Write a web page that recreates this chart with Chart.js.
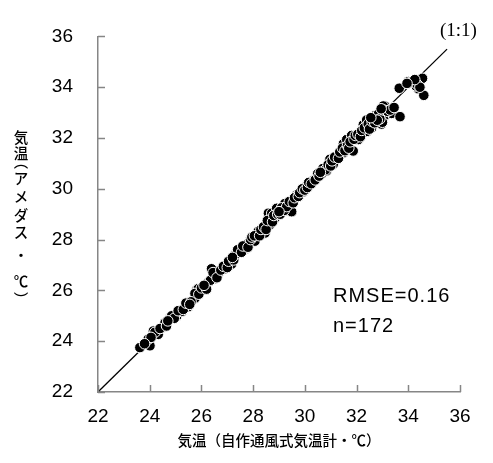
<!DOCTYPE html>
<html>
<head>
<meta charset="utf-8">
<script src="https://cdn.jsdelivr.net/npm/chart.js@4.4.1/dist/chart.umd.min.js"></script>
<style>
html,body{margin:0;padding:0;background:#fff;}
#wrap{width:493px;height:463px;position:relative;}
</style>
</head>
<body>
<div id="wrap"><canvas id="c" width="493" height="463"></canvas></div>
<script>
// Data
const xTitle = '気温（自作通風式気温計・℃）';
const yTitleChars = ['気','温','︵','ア','メ','ダ','ス','・','℃','︶'];
const tickValues = [22, 24, 26, 28, 30, 32, 34, 36];
const identityLine = [22, 35.5];
const statsLabels = ['RMSE=0.16', 'n=172'];
const identityLabel = '(1:1)';

const autoTemp = [
 23.62,24.01,23.94,24.33,24.14,24.46,24.59,24.78,25.04,25.24,
 25.49,25.75,25.81,26.14,26.27,25.88,25.75,26.39,26.52,26.65,
 26.91,27.17,27.43,27.68,27.75,28.07,28.14,28.46,28.65,28.59,
 28.20,28.65,28.84,28.72,28.91,29.49,29.23,29.68,29.94,30.07,
 30.33,30.46,30.65,30.84,30.97,30.65,31.10,31.23,31.87,31.49,
 31.49,32.07,31.62,31.81,32.39,32.58,32.26,32.39,32.97,32.78,
 33.10,33.10,33.36,33.68,33.00,32.71,33.65,34.00,34.39,34.55,
 34.39,34.60,34.30,33.03,24.20,24.40,24.65,24.85,24.95,25.10,
 25.30,25.40,25.60,25.90,26.00,26.20,26.35,26.45,26.60,26.75,
 26.85,27.00,27.05,27.25,27.30,27.40,27.55,27.60,27.80,27.90,
 27.95,28.05,28.25,28.30,28.40,28.50,28.55,28.75,28.80,28.95,
 29.05,29.10,29.20,29.30,29.40,29.55,29.60,29.75,29.80,29.90,
 30.00,30.10,30.15,30.25,30.40,30.50,30.55,30.70,30.80,30.90,
 31.00,31.05,31.15,31.30,31.35,31.45,31.55,31.65,31.70,31.75,
 31.90,31.95,32.05,32.15,32.20,32.30,32.45,32.50,32.60,32.70,
 32.85,32.90,33.05,33.20,33.30,33.45,34.10,34.35,34.45,34.25,
 33.95,32.95,32.80,32.55,30.60,29.00,27.20,26.10,25.55,24.70,
 24.05,23.80
];
const amedasTemp = [
 23.75,23.82,24.08,24.27,24.40,24.53,24.72,24.91,24.98,25.17,
 25.36,25.69,26.01,26.14,26.33,26.07,25.88,26.85,26.46,26.65,
 26.85,27.04,27.49,27.62,27.81,27.94,28.20,28.26,28.65,29.04,
 28.33,28.59,28.84,29.04,29.23,29.10,29.42,29.75,29.88,30.13,
 30.33,30.46,30.58,30.71,31.16,30.69,30.97,31.29,31.49,31.42,
 31.77,31.94,31.94,32.10,32.26,32.39,32.52,32.71,32.55,32.84,
 32.90,33.26,32.97,32.84,32.62,32.88,33.96,34.22,34.26,34.35,
 33.94,33.68,34.05,33.26,24.35,24.50,24.60,25.00,24.90,25.20,
 25.25,25.50,25.55,25.85,26.10,26.05,26.40,26.70,26.50,26.80,
 26.95,26.90,27.15,27.20,27.40,27.60,27.50,27.75,27.70,28.00,
 28.10,28.15,28.15,28.40,28.50,28.40,28.75,28.70,28.95,29.00,
 29.00,29.25,29.15,29.30,29.50,29.45,29.65,29.70,29.85,30.00,
 29.95,30.05,30.25,30.20,30.35,30.60,30.50,30.80,30.75,30.95,
 30.90,31.10,31.25,31.20,31.45,31.60,31.50,31.70,31.60,31.85,
 31.95,32.10,32.15,32.05,32.30,32.40,32.55,32.35,32.65,32.60,
 32.95,32.75,33.10,33.05,33.10,33.20,34.20,34.10,34.00,34.30,
 34.15,33.15,32.70,32.80,30.65,29.10,27.30,26.20,25.45,24.80,
 24.15,23.90
];

const points = autoTemp.map((x, i) => ({x: x, y: amedasTemp[i]}));
const lineData = identityLine.map(v => ({x: v, y: v}));

const AXIS_COLOR = '#868686';
const TEXT_COLOR = '#000';
const jpFont = '"Noto Sans CJK JP", "Noto Sans", sans-serif';
const latinFont = '"Liberation Sans", Arial, sans-serif';

const decorPlugin = {
  id: 'decor',
  afterDraw(chart) {
    const ctx = chart.ctx;
    const xs = chart.scales.x, ys = chart.scales.y;
    const area = chart.chartArea;
    ctx.save();
    // inside tick marks
    ctx.strokeStyle = AXIS_COLOR;
    ctx.lineWidth = 1.5;
    ctx.beginPath();
    tickValues.forEach(v => {
      const px = Math.round(xs.getPixelForValue(v)) + 0.5;
      ctx.moveTo(px, area.bottom);
      ctx.lineTo(px, area.bottom - 7);
      const py = Math.round(ys.getPixelForValue(v)) + 0.5;
      ctx.moveTo(area.left, py);
      ctx.lineTo(area.left + 7, py);
    });
    ctx.stroke();

    // x title
    ctx.fillStyle = TEXT_COLOR;
    ctx.font = '500 14.5px ' + jpFont;
    ctx.textAlign = 'center';
    ctx.textBaseline = 'middle';
    ctx.fillText(xTitle, (area.left + area.right) / 2, 440);

    // y title (vertical, upright characters)
    const yPos = [137, 153, 161, 178, 196, 215, 232, 255, 281, 299];
    ctx.font = '500 14.5px ' + jpFont;
    yTitleChars.forEach((ch, i) => {
      ctx.fillText(ch, 21, yPos[i]);
    });

    // (1:1)
    ctx.font = '19px "Liberation Serif", "DejaVu Serif", serif';
    ctx.textAlign = 'left';
    ctx.fillText(identityLabel, 440, 31);

    // stats
    ctx.font = '20px ' + latinFont;
    try { ctx.letterSpacing = '1px'; } catch (e) {}
    ctx.fillText(statsLabels[0], 333, 296);
    ctx.fillText(statsLabels[1], 333, 326);
    ctx.restore();
  }
};

new Chart(document.getElementById('c'), {
  type: 'scatter',
  data: {
    datasets: [
      {
        data: points,
        backgroundColor: '#000',
        borderColor: '#fff',
        borderWidth: 1,
        pointRadius: 5.3,
        pointHoverRadius: 5.3,
        order: 1
      },
      {
        type: 'line',
        data: lineData,
        borderColor: '#000',
        borderWidth: 1.3,
        pointRadius: 0,
        fill: false,
        order: 2
      }
    ]
  },
  options: {
    responsive: false,
    animation: false,
    events: [],
    layout: { padding: { left: 0, top: 30, right: 33, bottom: 0 } },
    plugins: { legend: { display: false }, tooltip: { enabled: false } },
    scales: {
      x: {
        type: 'linear',
        min: 22, max: 36,
        afterFit(s) { s.height = 71; },
        afterBuildTicks(s) { s.ticks = tickValues.map(v => ({value: v})); },
        grid: { drawOnChartArea: false, drawTicks: false },
        border: { display: true, color: AXIS_COLOR, width: 1.5 },
        ticks: {
          padding: 13,
          color: TEXT_COLOR,
          font: { family: latinFont, size: 19 },
          maxRotation: 0
        }
      },
      y: {
        type: 'linear',
        min: 22, max: 36,
        afterFit(s) { s.width = 98; },
        afterBuildTicks(s) { s.ticks = tickValues.map(v => ({value: v})); },
        grid: { drawOnChartArea: false, drawTicks: false },
        border: { display: true, color: AXIS_COLOR, width: 1.5 },
        ticks: {
          padding: 25,
          color: TEXT_COLOR,
          font: { family: latinFont, size: 19 }
        }
      }
    }
  },
  plugins: [decorPlugin]
});
</script>
</body>
</html>
